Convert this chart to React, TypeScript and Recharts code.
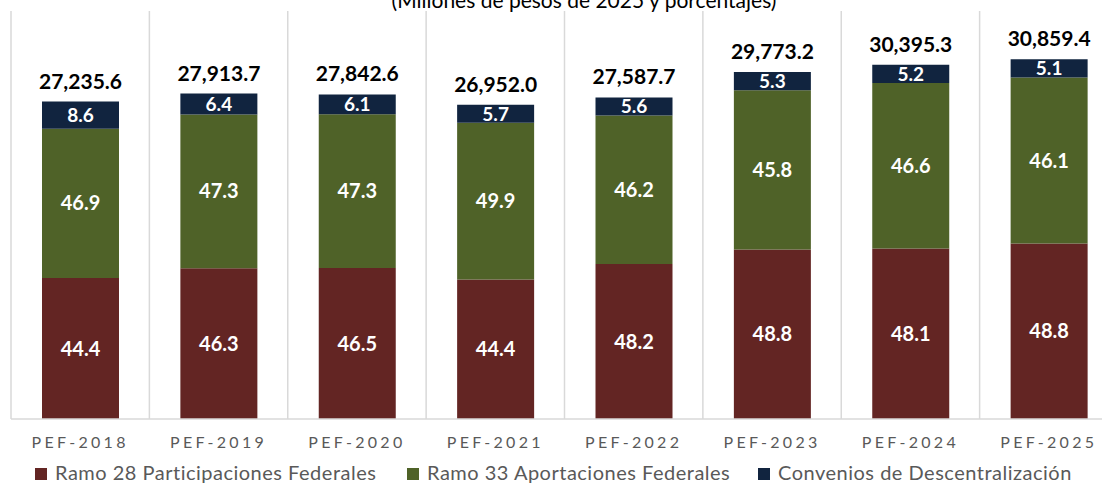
import { BarChart, Bar, XAxis, YAxis, CartesianGrid, LabelList, Legend } from "recharts";

const years = ["PEF-2018", "PEF-2019", "PEF-2020", "PEF-2021", "PEF-2022", "PEF-2023", "PEF-2024", "PEF-2025"];
const totals = [27235.6, 27913.7, 27842.6, 26952.0, 27587.7, 29773.2, 30395.3, 30859.4];
const ramo28Pct = [44.4, 46.3, 46.5, 44.4, 48.2, 48.8, 48.1, 48.8];
const ramo33Pct = [46.9, 47.3, 47.3, 49.9, 46.2, 45.8, 46.6, 46.1];
const conveniosPct = [8.6, 6.4, 6.1, 5.7, 5.6, 5.3, 5.2, 5.1];

const RED = "#632523";
const GREEN = "#4F6228";
const NAVY = "#11243F";
const FONT = "Lato, 'Noto Sans', sans-serif";

// segments are the shares of each year's total
const data = years.map((year, i) => {
  const sum = ramo28Pct[i] + ramo33Pct[i] + conveniosPct[i];
  return {
    year,
    total: totals[i],
    r28: (totals[i] * ramo28Pct[i]) / sum,
    r33: (totals[i] * ramo33Pct[i]) / sum,
    conv: (totals[i] * conveniosPct[i]) / sum,
    r28Pct: ramo28Pct[i],
    r33Pct: ramo33Pct[i],
    convPct: conveniosPct[i],
  };
});

const legendItems = [
  { label: "Ramo 28 Participaciones Federales", color: RED, left: 24 },
  { label: "Ramo 33 Aportaciones Federales", color: GREEN, left: 396 },
  { label: "Convenios de Descentralización", color: NAVY, left: 747 },
];

const renderLegend = () => (
  <div style={{ position: "relative", height: 38, fontFamily: FONT }}>
    {legendItems.map((item) => (
      <div
        key={item.label}
        style={{
          position: "absolute",
          left: item.left,
          top: 11,
          display: "flex",
          alignItems: "center",
          whiteSpace: "nowrap",
          color: "#595959",
          fontSize: 20,
          letterSpacing: 0.5,
        }}
      >
        <span style={{ width: 12, height: 12, background: item.color, marginRight: 8, marginTop: 3, display: "inline-block" }} />
        {item.label}
      </div>
    ))}
  </div>
);

// separators sit on the category band edges, not the centers
const bandEdges = ({ xAxis }: any) => {
  const scale = xAxis?.scale;
  if (!scale) return [];
  const at = (v: string): number =>
    typeof scale === "function" ? scale(v) : scale.map ? scale.map(v) : scale.apply(v);
  const bw = typeof scale.bandwidth === "function" ? scale.bandwidth() : 0;
  const edges = years.map((y) => at(y));
  edges.push(at(years[years.length - 1]) + bw);
  return edges.filter((e) => Number.isFinite(e));
};

const fmtPct = (v: any) => Number(v).toFixed(1);
const fmtTotal = (v: any) =>
  Number(v).toLocaleString("en-US", { minimumFractionDigits: 1, maximumFractionDigits: 1 });

export default function App() {
  return (
    <div style={{ position: "fixed", left: 0, top: 0, width: 1102, height: 487, overflow: "hidden", background: "#fff" }}>
      <div
        style={{
          position: "absolute",
          left: 334,
          top: -13,
          width: 500,
          textAlign: "center",
          fontFamily: FONT,
          fontSize: 21,
          color: "#000",
          whiteSpace: "nowrap",
        }}
      >
        (Millones de pesos de 2025 y porcentajes)
      </div>
      <BarChart
        width={1118}
        height={487}
        data={data}
        margin={{ top: 11, right: 0, left: 11, bottom: 0 }}
        barSize={77}
      >
        <CartesianGrid horizontal={false} verticalCoordinatesGenerator={bandEdges} stroke="#d9d9d9" strokeWidth={1.5} />
        <XAxis
          dataKey="year"
          height={30}
          tickLine={false}
          tickSize={0}
          tickMargin={18}
          axisLine={{ stroke: "#d9d9d9", strokeWidth: 1.5 }}
          tick={{ fill: "#595959", fontSize: 16, fontFamily: FONT, letterSpacing: 3.3 }}
        />
        <YAxis hide domain={[0, 35000]} />
        <Legend verticalAlign="bottom" content={renderLegend} />
        <Bar dataKey="r28" stackId="a" fill={RED} isAnimationActive={false}>
          <LabelList dataKey="r28Pct" position="center" formatter={fmtPct} fill="#fff" fontSize={20} fontWeight={700} fontFamily={FONT} />
        </Bar>
        <Bar dataKey="r33" stackId="a" fill={GREEN} isAnimationActive={false}>
          <LabelList dataKey="r33Pct" position="center" formatter={fmtPct} fill="#fff" fontSize={20} fontWeight={700} fontFamily={FONT} />
        </Bar>
        <Bar dataKey="conv" stackId="a" fill={NAVY} isAnimationActive={false}>
          <LabelList dataKey="convPct" position="center" formatter={fmtPct} fill="#fff" fontSize={19} fontWeight={700} fontFamily={FONT} />
          <LabelList dataKey="total" position="top" offset={13} formatter={fmtTotal} fill="#000" fontSize={21} fontWeight={700} fontFamily={FONT} />
        </Bar>
      </BarChart>
    </div>
  );
}
